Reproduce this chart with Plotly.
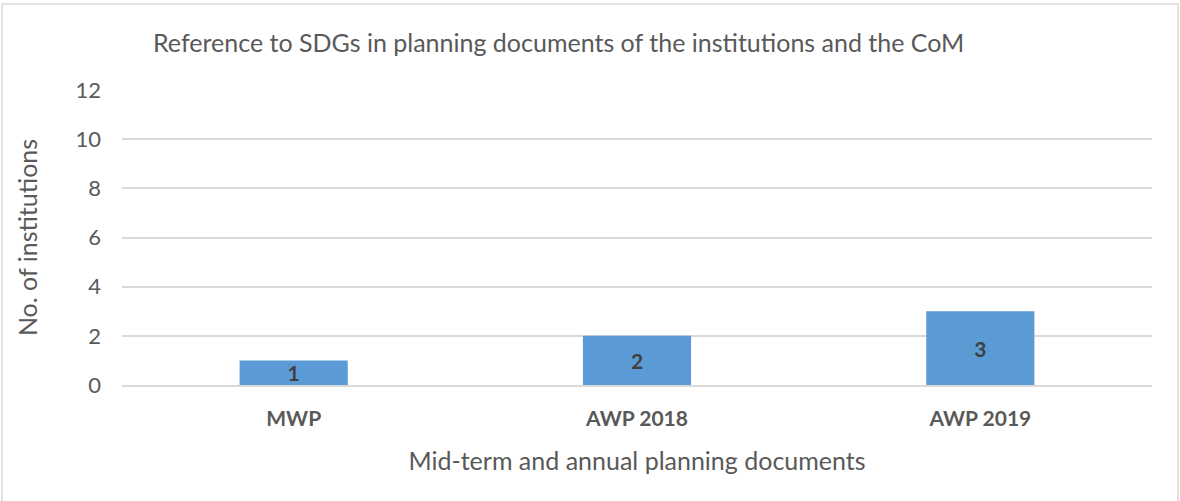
import plotly.graph_objects as go

categories = ["MWP", "AWP 2018", "AWP 2019"]
values = [1, 2, 3]
y_ticks = [0, 2, 4, 6, 8, 10, 12]

title_text = "Reference to SDGs in planning documents of the institutions and the CoM"
x_title = "Mid-term and annual planning documents"
y_title = "No. of institutions"

FONT = "Lato, Carlito, Calibri, sans-serif"
GRAY = "#595959"

W, H = 1180, 501
L, R, T, B = 122, 28, 90, 116
PW, PH = W - L - R, H - T - B

fig = go.Figure()
fig.add_trace(go.Bar(
    x=categories, y=values,
    marker=dict(color="#5b9bd5", line=dict(width=0)),
    width=0.315,
    text=[str(v) for v in values],
    textposition="inside",
    insidetextanchor="middle",
    textangle=0,
    constraintext="none",
    textfont=dict(family=FONT, size=21, color="#404040", weight="bold"),
    hoverinfo="skip",
))

fig.update_layout(
    width=W, height=H,
    margin=dict(l=L, r=R, t=T, b=B, autoexpand=False),
    paper_bgcolor="white", plot_bgcolor="white",
    showlegend=False,
    font=dict(family=FONT, color=GRAY),
    title=dict(
        text=title_text,
        font=dict(family=FONT, size=25, color=GRAY),
        x=153 / W, xanchor="left", xref="container",
        y=1 - 43 / H, yanchor="middle", yref="container",
    ),
)

fig.update_xaxes(
    type="category",
    showgrid=False,
    showline=True, linecolor="#d9d9d9", linewidth=1.5,
    ticks="", ticklabelstandoff=14,
    tickfont=dict(family=FONT, size=21, color=GRAY, weight="bold"),
    title=dict(text=x_title, font=dict(family=FONT, size=25, color=GRAY), standoff=24),
    automargin=False,
)
fig.update_yaxes(
    range=[0, 12],
    tickvals=y_ticks,
    showgrid=True, gridcolor="#d9d9d9", gridwidth=1.5,
    zeroline=False,
    showline=False,
    ticks="", ticklabelstandoff=20,
    tickfont=dict(family=FONT, size=22, color=GRAY),
    title=dict(text=y_title, font=dict(family=FONT, size=25, color=GRAY), standoff=30),
    automargin=False,
)

# outer chart border
fig.add_shape(
    type="rect", xref="paper", yref="paper",
    x0=(2 - L) / PW, x1=(1178 - L) / PW,
    y0=(T + PH - 506) / PH, y1=(T + PH - 4) / PH,
    line=dict(color="#d9d9d9", width=1.5), fillcolor="rgba(0,0,0,0)",
    layer="below",
)

fig.write_html("out.html")
